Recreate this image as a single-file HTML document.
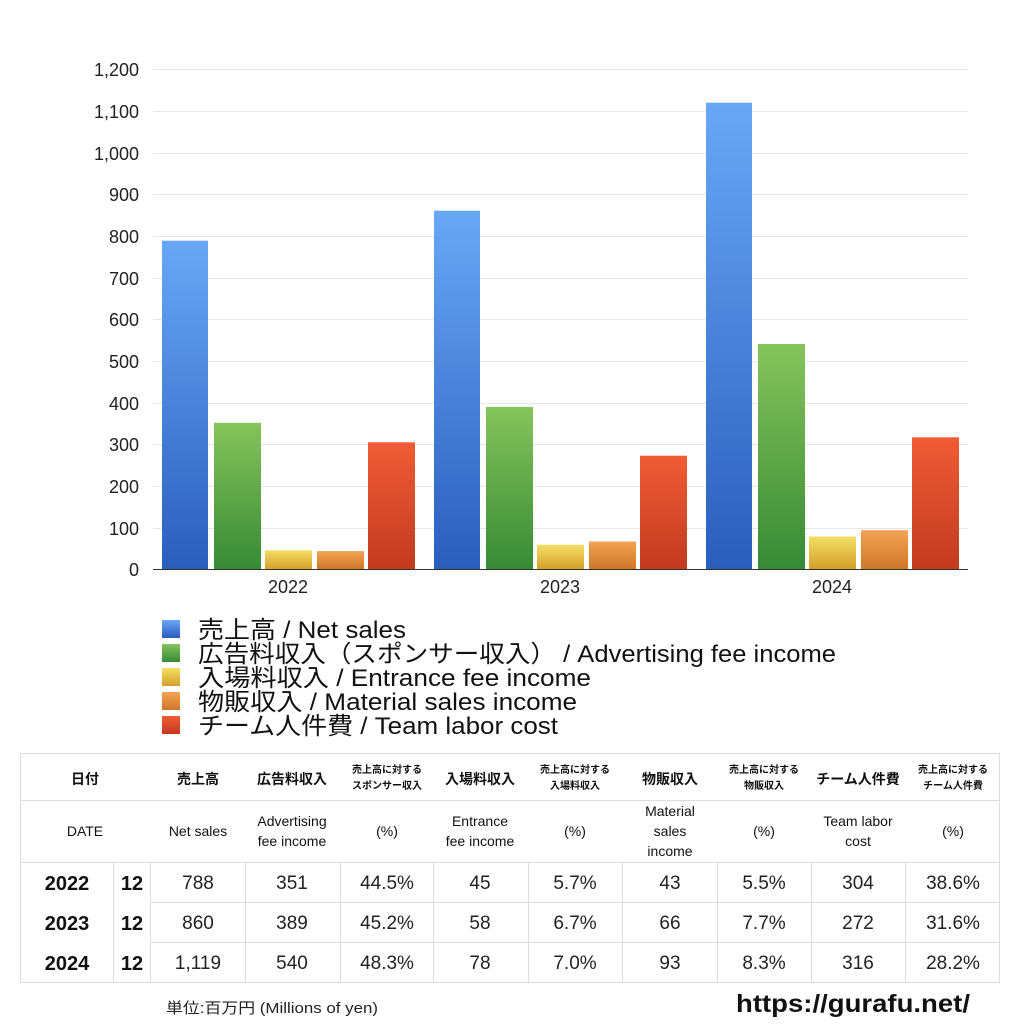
<!DOCTYPE html>
<html><head><meta charset="utf-8"><style>
body{margin:0;background:#fff}
svg text{font-family:"Liberation Sans","Noto Sans CJK JP",sans-serif}
</style></head><body>
<svg width="1024" height="1024" viewBox="0 0 1024 1024" xmlns="http://www.w3.org/2000/svg">
<defs>
<linearGradient id="gb" x1="0" y1="0" x2="0" y2="1"><stop offset="0" stop-color="#69a8f6"/><stop offset="1" stop-color="#2a5ebd"/></linearGradient>
<linearGradient id="gg" x1="0" y1="0" x2="0" y2="1"><stop offset="0" stop-color="#86c45b"/><stop offset="1" stop-color="#378a36"/></linearGradient>
<linearGradient id="gy" x1="0" y1="0" x2="0" y2="1"><stop offset="0" stop-color="#f3df66"/><stop offset="1" stop-color="#d4a02a"/></linearGradient>
<linearGradient id="go" x1="0" y1="0" x2="0" y2="1"><stop offset="0" stop-color="#f2a455"/><stop offset="1" stop-color="#cf7629"/></linearGradient>
<linearGradient id="gr" x1="0" y1="0" x2="0" y2="1"><stop offset="0" stop-color="#ef5c36"/><stop offset="1" stop-color="#c33a20"/></linearGradient>
</defs>
<g stroke="#e6e6e6" stroke-width="1">
<line x1="153" x2="968" y1="69.5" y2="69.5"/><line x1="153" x2="968" y1="111.5" y2="111.5"/><line x1="153" x2="968" y1="153.5" y2="153.5"/><line x1="153" x2="968" y1="194.5" y2="194.5"/><line x1="153" x2="968" y1="236.5" y2="236.5"/><line x1="153" x2="968" y1="278.5" y2="278.5"/><line x1="153" x2="968" y1="319.5" y2="319.5"/><line x1="153" x2="968" y1="361.5" y2="361.5"/><line x1="153" x2="968" y1="403.5" y2="403.5"/><line x1="153" x2="968" y1="444.5" y2="444.5"/><line x1="153" x2="968" y1="486.5" y2="486.5"/><line x1="153" x2="968" y1="528.5" y2="528.5"/>
</g>
<g font-size="18" fill="#222" text-anchor="end">
<text x="139" y="76">1,200</text><text x="139" y="118">1,100</text><text x="139" y="160">1,000</text><text x="139" y="201">900</text><text x="139" y="243">800</text><text x="139" y="285">700</text><text x="139" y="326">600</text><text x="139" y="368">500</text><text x="139" y="410">400</text><text x="139" y="451">300</text><text x="139" y="493">200</text><text x="139" y="535">100</text><text x="139" y="576">0</text>
</g>
<rect x="162" y="240.7" width="46" height="328.3" fill="url(#gb)"/>
<rect x="214" y="422.8" width="47" height="146.2" fill="url(#gg)"/>
<rect x="265" y="550.3" width="47" height="18.7" fill="url(#gy)"/>
<rect x="317" y="551.1" width="47" height="17.9" fill="url(#go)"/>
<rect x="368" y="442.3" width="47" height="126.7" fill="url(#gr)"/>
<rect x="434" y="210.7" width="46" height="358.3" fill="url(#gb)"/>
<rect x="486" y="406.9" width="47" height="162.1" fill="url(#gg)"/>
<rect x="537" y="544.8" width="47" height="24.2" fill="url(#gy)"/>
<rect x="589" y="541.5" width="47" height="27.5" fill="url(#go)"/>
<rect x="640" y="455.7" width="47" height="113.3" fill="url(#gr)"/>
<rect x="706" y="102.7" width="46" height="466.3" fill="url(#gb)"/>
<rect x="758" y="344" width="47" height="225" fill="url(#gg)"/>
<rect x="809" y="536.5" width="47" height="32.5" fill="url(#gy)"/>
<rect x="861" y="530.2" width="47" height="38.8" fill="url(#go)"/>
<rect x="912" y="437.3" width="47" height="131.7" fill="url(#gr)"/>
<line x1="153" x2="968" y1="569.5" y2="569.5" stroke="#333" stroke-width="1"/>
<g font-size="18" fill="#222" text-anchor="middle">
<text x="288" y="593">2022</text><text x="560" y="593">2023</text><text x="832" y="593">2024</text>
</g>
<rect x="162" y="620" width="18" height="18" fill="url(#gb)"/>
<rect x="162" y="644" width="18" height="18" fill="url(#gg)"/>
<rect x="162" y="668" width="18" height="18" fill="url(#gy)"/>
<rect x="162" y="692" width="18" height="18" fill="url(#go)"/>
<rect x="162" y="716" width="18" height="18" fill="url(#gr)"/>
<g font-size="24" fill="#111">
<text x="198" y="638" textLength="208" lengthAdjust="spacingAndGlyphs">売上高 / Net sales</text>
<text x="198" y="662" textLength="638" lengthAdjust="spacingAndGlyphs">広告料収入（スポンサー収入） / Advertising fee income</text>
<text x="198" y="686" textLength="393" lengthAdjust="spacingAndGlyphs">入場料収入 / Entrance fee income</text>
<text x="198" y="710" textLength="379" lengthAdjust="spacingAndGlyphs">物販収入 / Material sales income</text>
<text x="198" y="734" textLength="360" lengthAdjust="spacingAndGlyphs">チーム人件費 / Team labor cost</text>
</g>
<g stroke="#dcdcdc" stroke-width="1" fill="none">
<rect x="20.5" y="753.5" width="979" height="229"/>
<line x1="20" x2="1000" y1="800.5" y2="800.5"/>
<line x1="20" x2="1000" y1="862.5" y2="862.5"/>
<line x1="150" x2="1000" y1="902.5" y2="902.5"/>
<line x1="150" x2="1000" y1="942.5" y2="942.5"/>
<line x1="113.5" x2="113.5" y1="862" y2="983"/>
<line x1="150.5" x2="150.5" y1="862" y2="983"/>
<line x1="245.5" x2="245.5" y1="862" y2="983"/>
<line x1="340.5" x2="340.5" y1="862" y2="983"/>
<line x1="433.5" x2="433.5" y1="862" y2="983"/>
<line x1="528.5" x2="528.5" y1="862" y2="983"/>
<line x1="622.5" x2="622.5" y1="862" y2="983"/>
<line x1="717.5" x2="717.5" y1="862" y2="983"/>
<line x1="811.5" x2="811.5" y1="862" y2="983"/>
<line x1="905.5" x2="905.5" y1="862" y2="983"/>
</g>
<g fill="#111" text-anchor="middle">
<g font-size="14" font-weight="bold">
<text x="85" y="784">日付</text><text x="198" y="784">売上高</text><text x="292" y="784">広告料収入</text><text x="480" y="784">入場料収入</text><text x="670" y="784">物販収入</text><text x="858" y="784">チーム人件費</text>
</g>
<g font-size="10" font-weight="bold">
<text x="387" y="773">売上高に対する</text><text x="387" y="789">スポンサー収入</text>
<text x="575" y="773">売上高に対する</text><text x="575" y="789">入場料収入</text>
<text x="764" y="773">売上高に対する</text><text x="764" y="789">物販収入</text>
<text x="953" y="773">売上高に対する</text><text x="953" y="789">チーム人件費</text>
</g>
<g font-size="14">
<text x="85" y="836">DATE</text><text x="198" y="836">Net sales</text>
<text x="292" y="826">Advertising</text><text x="292" y="846">fee income</text>
<text x="387" y="836">(%)</text>
<text x="480" y="826">Entrance</text><text x="480" y="846">fee income</text>
<text x="575" y="836">(%)</text>
<text x="670" y="816">Material</text><text x="670" y="836">sales</text><text x="670" y="856">income</text>
<text x="764" y="836">(%)</text>
<text x="858" y="826">Team labor</text><text x="858" y="846">cost</text>
<text x="953" y="836">(%)</text>
</g>
<g font-size="20" font-weight="bold">
<text x="67" y="890">2022</text><text x="132" y="890">12</text>
<text x="67" y="930">2023</text><text x="132" y="930">12</text>
<text x="67" y="970">2024</text><text x="132" y="970">12</text>
</g>
<g font-size="19" fill="#222">
<text x="198" y="889">788</text><text x="292" y="889">351</text><text x="387" y="889">44.5%</text><text x="480" y="889">45</text><text x="575" y="889">5.7%</text><text x="670" y="889">43</text><text x="764" y="889">5.5%</text><text x="858" y="889">304</text><text x="953" y="889">38.6%</text>
<text x="198" y="929">860</text><text x="292" y="929">389</text><text x="387" y="929">45.2%</text><text x="480" y="929">58</text><text x="575" y="929">6.7%</text><text x="670" y="929">66</text><text x="764" y="929">7.7%</text><text x="858" y="929">272</text><text x="953" y="929">31.6%</text>
<text x="198" y="969">1,119</text><text x="292" y="969">540</text><text x="387" y="969">48.3%</text><text x="480" y="969">78</text><text x="575" y="969">7.0%</text><text x="670" y="969">93</text><text x="764" y="969">8.3%</text><text x="858" y="969">316</text><text x="953" y="969">28.2%</text>
</g>
</g>
<text x="166" y="1013" font-size="15" fill="#222" textLength="212" lengthAdjust="spacingAndGlyphs">単位:百万円 (Millions of yen)</text>
<text x="736" y="1012" font-size="25" font-weight="bold" fill="#111" textLength="234" lengthAdjust="spacingAndGlyphs">https://gurafu.net/</text>
</svg>
</body></html>
